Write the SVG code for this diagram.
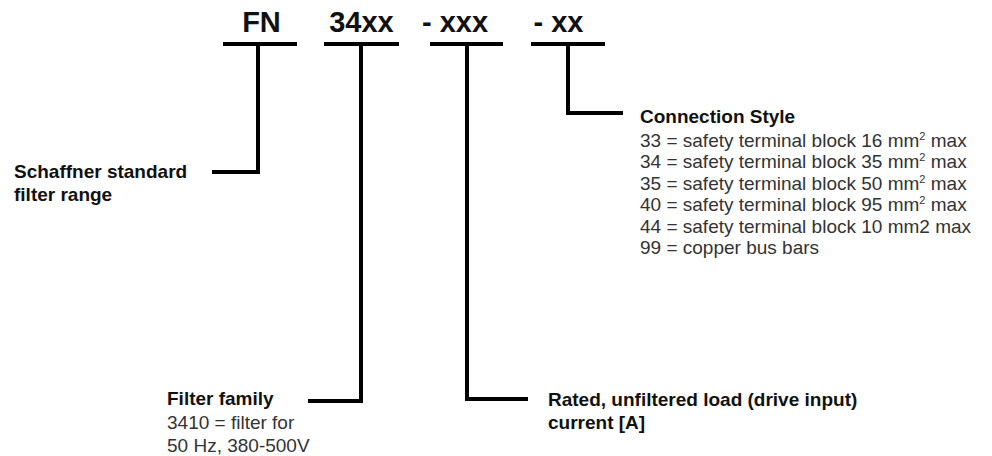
<svg xmlns="http://www.w3.org/2000/svg" width="992" height="456" viewBox="0 0 992 456">
<style>
  .code { font-family: "Liberation Sans", Arial, sans-serif; font-weight: bold; font-size: 29px; fill: #111; }
  .h { font-family: "Liberation Sans", Arial, sans-serif; font-weight: bold; font-size: 19px; fill: #111; }
  .t { font-family: "Liberation Sans", Arial, sans-serif; font-size: 19px; fill: #333; }
  .sup { font-size: 11px; }
  .ln { fill: none; stroke: #000; stroke-width: 4; stroke-linecap: butt; stroke-linejoin: miter; }
</style>
<rect width="992" height="456" fill="#fff"/>
<g id="codes">
  <text class="code" x="261.5" y="32" text-anchor="middle">FN</text>
  <text class="code" x="361.5" y="32" text-anchor="middle">34xx</text>
  <text class="code" x="455" y="32" text-anchor="middle">- xxx</text>
  <text class="code" x="558.5" y="32" text-anchor="middle">- xx</text>
</g>
<g id="connectors">
  <path class="ln" d="M223 44H297M258 44V172H212"/>
  <path class="ln" d="M324 44H399M361 44V401H308"/>
  <path class="ln" d="M430 44H503M467 44V399H528"/>
  <path class="ln" d="M531 44H605M568 44V113H623"/>
</g>
<g id="range">
  <text class="h" x="14" y="178">Schaffner standard</text>
  <text class="h" x="14" y="201">filter range</text>
</g>
<g id="family">
  <text class="h" x="167" y="405">Filter family</text>
  <text class="t" x="167" y="429">3410 = filter for</text>
  <text class="t" x="167" y="451.5">50 Hz, 380-500V</text>
</g>
<g id="current">
  <text class="h" x="548" y="406">Rated, unfiltered load (drive input)</text>
  <text class="h" x="548" y="429">current [A]</text>
</g>
<g id="connection">
  <text class="h" x="640" y="123">Connection Style</text>
  <text class="t" x="640" y="146.5">33 = safety terminal block 16 mm<tspan class="sup" dy="-7">2</tspan><tspan dy="7"> max</tspan></text>
  <text class="t" x="640" y="168">34 = safety terminal block 35 mm<tspan class="sup" dy="-7">2</tspan><tspan dy="7"> max</tspan></text>
  <text class="t" x="640" y="189.5">35 = safety terminal block 50 mm<tspan class="sup" dy="-7">2</tspan><tspan dy="7"> max</tspan></text>
  <text class="t" x="640" y="211">40 = safety terminal block 95 mm<tspan class="sup" dy="-7">2</tspan><tspan dy="7"> max</tspan></text>
  <text class="t" x="640" y="232.5">44 = safety terminal block 10 mm2 max</text>
  <text class="t" x="640" y="254">99 = copper bus bars</text>
</g>
</svg>
